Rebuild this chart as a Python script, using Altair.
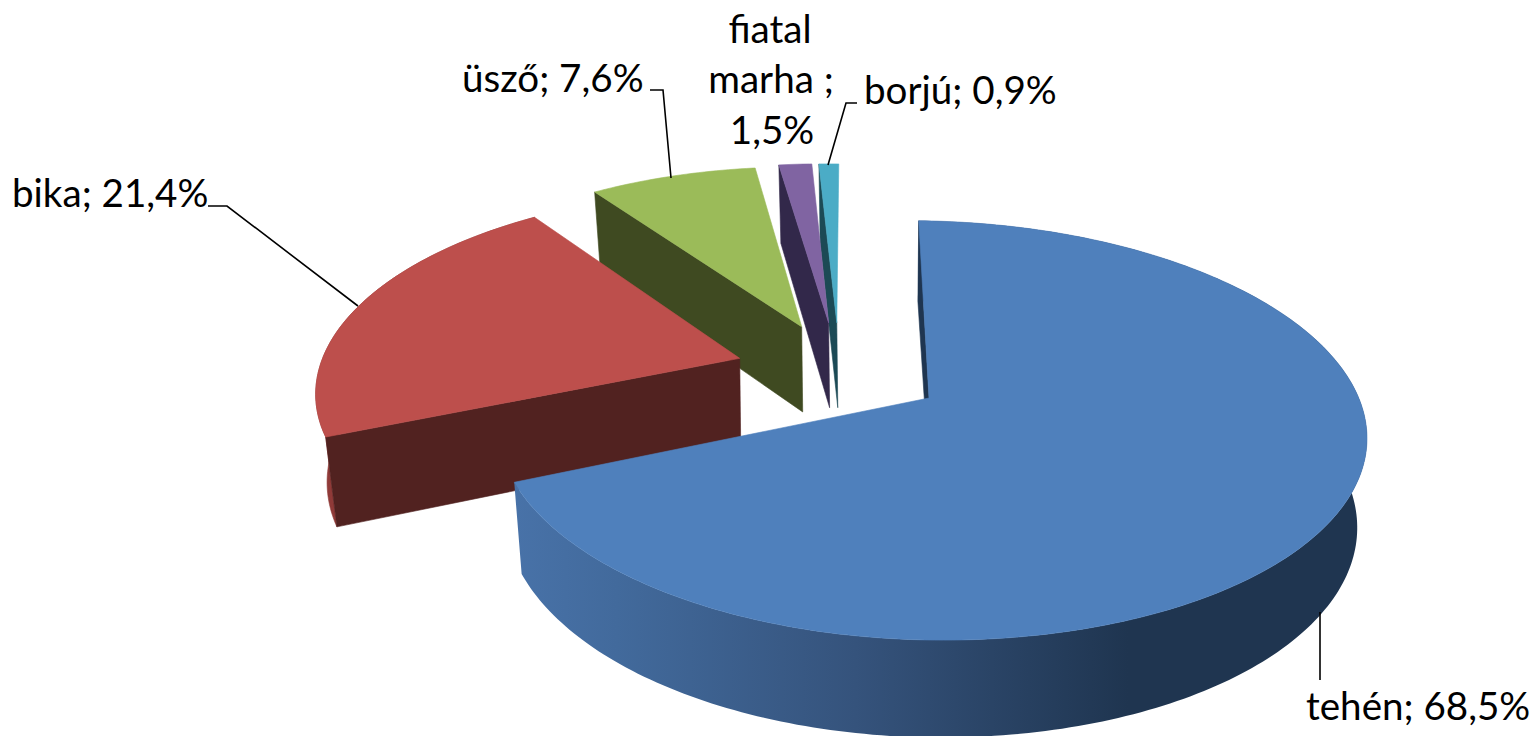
import numpy as np
import pandas as pd
import altair as alt

# Chart values
categories = ["tehén", "bika", "üsző", "fiatal marha", "borjú"]
shares = [68.5, 21.4, 7.6, 1.5, 0.9]
# Exploded offset of each slice on the pie's plane (pie radius = 1)
explode_x = [0.0, -0.451, -0.311, -0.246, -0.226]
explode_y = [0.0, 0.200, 0.368, 0.390, 0.390]
top_colors = ["#4F80BC", "#BD4F4C", "#9BBB59", "#8064A2", "#4BACC6"]
wall_colors = ["#1F3550", "#512220", "#3F4A21", "#32284A", "#1C4A55"]
rim_colors = ["#1F3550", "#8F3A38", None, None, None]

# Labels (text, left/center anchor, baseline, in picture units)
label_text = ["tehén; 68,5%", "bika; 21,4%", "üsző; 7,6%", "fiatal", "marha ;", "1,5%", "borjú; 0,9%"]
label_x = [1306, 12, 462, 770, 771, 772, 864]
label_y = [720, 207, 92, 43, 93, 144, 104]
label_align = ["left", "left", "left", "center", "center", "center", "left"]

# Leader lines
leader_id = ["a", "a", "a", "b", "b", "b", "c", "c", "c", "d", "d"]
leader_x = [208, 227, 358, 650, 663, 671, 857, 846, 828, 1320, 1320]
leader_y = [206, 206, 306, 90, 90, 178, 103, 103, 165, 612, 680]

# View of the pie
CX, CY, A, B, K = 929, 398, 432.7, 204.5, 0.155
H, SHRINK, SHIFT, TILT, LEFT_TRIM, START = 88, 0.98, -1, 8, 6, -1.6
W, HT = 1524, 728


def project(X, Y, bottom=False):
    d = 1 + K * Y
    px = A * X / d
    py = -B * Y / d
    if bottom:
        px = px * SHRINK + SHIFT
        py = py + H / d ** 0.6
    return CX + px, CY + py


def rim_points(t0, t1, ox, oy):
    th = np.radians(np.arange(t0, t1, 1.0).tolist() + [t1])
    s = np.sin(th)
    return s + ox, np.cos(th) + oy, TILT * s, -LEFT_TRIM * np.minimum(s, 0)


scale_x = alt.Scale(domain=[8, 8 + W], range=[0, W], nice=False, zero=False)
scale_y = alt.Scale(domain=[8, 8 + HT], range=[0, HT], nice=False, zero=False)


def face(xs, ys, color):
    xs, ys = list(xs), list(ys)
    df = pd.DataFrame({"px": xs + xs[:1], "py": ys + ys[:1], "i": range(len(xs) + 1)})
    solid = isinstance(color, str)
    return alt.Chart(df).mark_line(
        fill=color,
        stroke=color if solid else "#2f4a70",
        strokeWidth=0.6 if solid else 0,
        interpolate="linear",
    ).encode(
        x=alt.X("px:Q", scale=scale_x, axis=None),
        y=alt.Y("py:Q", scale=scale_y, axis=None),
        order="i:Q",
    )


blue_rim = alt.Gradient(
    gradient="linear", x1=0, x2=1, y1=0, y2=0,
    stops=[
        alt.GradientStop(offset=0, color="#4872A8"),
        alt.GradientStop(offset=0.12, color="#426A9C"),
        alt.GradientStop(offset=0.4, color="#35537C"),
        alt.GradientStop(offset=0.72, color="#1F3550"),
        alt.GradientStop(offset=1, color="#1F3550"),
    ],
)

total = sum(shares)
starts = [START + 360 * sum(shares[:i]) / total for i in range(len(shares))]
ends = [START + 360 * sum(shares[:i + 1]) / total for i in range(len(shares))]

layers = []
for n in range(len(shares) - 1, -1, -1):
    ox, oy = explode_x[n], explode_y[n]
    t0, t1 = starts[n], ends[n]
    sx, sy, tilt, trim = rim_points(t0, t1, ox, oy)
    tx, ty = project(sx, sy)
    bx, by = project(sx, sy, bottom=True)
    tx, bx = tx + trim, bx + trim
    ty, by = ty + tilt, by + tilt
    # rim (only slices whose outer edge faces the viewer)
    if rim_colors[n]:
        rim_fill = blue_rim if n == 0 else rim_colors[n]
        layers.append(face(np.r_[tx, bx[::-1]], np.r_[ty, by[::-1]], rim_fill))
    # wall on the slice's starting edge
    ax, ay = project(np.array([ox]), np.array([oy]))
    _, aby = project(np.array([ox]), np.array([oy]), bottom=True)
    layers.append(face([ax[0], tx[0], bx[0], ax[0] + 1], [ay[0], ty[0], by[0], aby[0]], wall_colors[n]))
    # top
    layers.append(face(np.r_[ax, tx], np.r_[ay, ty], top_colors[n]))

leaders = alt.Chart(pd.DataFrame({"g": leader_id, "px": leader_x, "py": leader_y, "i": range(len(leader_x))})).mark_line(
    color="black", strokeWidth=1.6
).encode(
    x=alt.X("px:Q", scale=scale_x, axis=None),
    y=alt.Y("py:Q", scale=scale_y, axis=None),
    detail="g:N",
    order="i:Q",
)

labels_df = pd.DataFrame({"t": label_text, "px": label_x, "py": label_y, "al": label_align})
label_layers = []
for al in ["left", "center"]:
    label_layers.append(
        alt.Chart(labels_df[labels_df.al == al]).mark_text(
            font="Lato", fontSize=38.6, align=al, baseline="alphabetic", color="black"
        ).encode(
            x=alt.X("px:Q", scale=scale_x, axis=None),
            y=alt.Y("py:Q", scale=scale_y, axis=None),
            text="t:N",
        )
    )

chart = alt.layer(*layers, leaders, *label_layers).properties(
    width=W, height=HT, padding=0, background="white",
    autosize=alt.AutoSizeParams(type="none"),
).configure_view(stroke=None)

chart.save("out.html", embed_options={"renderer": "svg", "actions": False})
